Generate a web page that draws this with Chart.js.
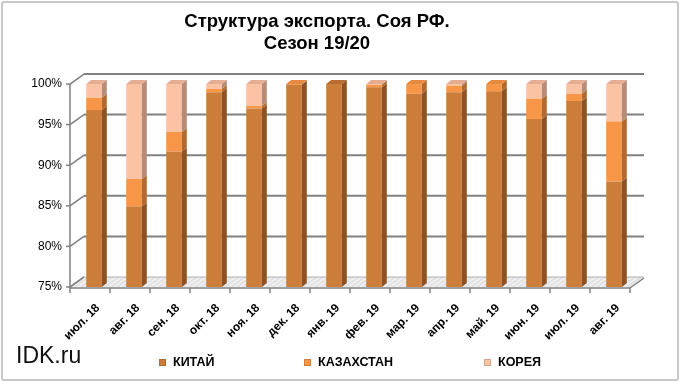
<!DOCTYPE html>
<html lang="ru">
<head>
  <meta charset="UTF-8" />
  <title>Структура экспорта. Соя РФ</title>
  <script src="https://cdn.jsdelivr.net/npm/chart.js"></script>
  <style>
    body {
      margin: 0;
      background: #fff;
      font-family: "Liberation Sans", Arial, sans-serif;
    }
    .frame {
      position: relative;
      width: 680px;
      height: 384px;
    }
    .frame::after {
      content: "";
      position: absolute;
      left: 1px; top: 1px;
      width: 674px; height: 376px;
      border: 2px solid #c8c8c8;
      border-radius: 3px;
      pointer-events: none;
    }
    canvas { position: absolute; left: 0; top: 0; }
    .brand {
      position: absolute;
      left: 16px;
      top: 342px;
      font-size: 23px;
      color: #111;
    }
    .legend span.item {
      position: absolute;
      top: 355px;
      font-size: 12.5px;
      font-weight: bold;
      color: #000;
    }
    .legend i {
      display: inline-block;
      width: 7px; height: 7px;
      margin-right: 7px;
      vertical-align: 0px;
      box-shadow: inset 0 0 0 1px rgba(0,0,0,0.15);
    }
  </style>
</head>
<body>
<div class="frame">
  <canvas id="chart" width="680" height="384"></canvas>
  <div class="brand">IDK.ru</div>
  <div class="legend" id="legend"></div>
</div>

<script>
  const months = ["июл. 18", "авг. 18", "сен. 18", "окт. 18", "ноя. 18", "дек. 18", "янв. 19",
                  "фев. 19", "мар. 19", "апр. 19", "май. 19", "июн. 19", "июл. 19", "авг. 19"];
  const china      = [96.8, 84.9, 91.7, 99.0, 97.0, 99.9, 100, 99.6, 98.8, 99.0, 99.1, 95.7, 97.9, 88.0];
  const kazakhstan = [1.5, 3.4, 2.4, 0.4, 0.3, 0.1, 0, 0.3, 1.2, 0.8, 0.9, 2.5, 0.9, 7.4];
  const korea      = [1.7, 11.7, 5.9, 0.6, 2.7, 0, 0, 0.1, 0, 0.2, 0, 1.8, 1.2, 4.6];
  const yTicks = [75, 80, 85, 90, 95, 100];

  const colors = {
    china: "#cd7d3a", chinaSide: "#8e5223", chinaTop: "#b96d33",
    kaz: "#f79646", kazSide: "#b46a2e", kazTop: "#e58a40",
    korea: "#fbc3a3", koreaSide: "#b58c77", koreaTop: "#e7ad92"
  };

  // 3D look: back wall grid, floor, side and top faces of bars
  const DX = 14, DY = 10;      // wall depth
  const BX = 5, BY = 4;        // bar depth
  const AXIS_SHIFT = 4;        // front axis sits a little left of the bars
  const GRID = "#808080";

  // line drawn as a thin filled quad
  function seg(c, x1, y1, x2, y2, w) {
    const len = Math.hypot(x2 - x1, y2 - y1) || 1;
    const nx = -(y2 - y1) / len * w / 2, ny = (x2 - x1) / len * w / 2;
    c.beginPath();
    c.moveTo(x1 + nx, y1 + ny); c.lineTo(x2 + nx, y2 + ny);
    c.lineTo(x2 - nx, y2 - ny); c.lineTo(x1 - nx, y1 - ny);
    c.closePath();
    c.fill();
  }

  const threeD = {
    id: "threeD",
    beforeDraw(chart) {
      const c = chart.ctx, a = chart.chartArea, ys = chart.scales.y;
      const L = a.left - AXIS_SHIFT, R = a.right - AXIS_SHIFT, B = a.bottom;
      c.save();
      // floor
      c.beginPath();
      c.moveTo(L, B); c.lineTo(R, B); c.lineTo(R + DX, B - DY); c.lineTo(L + DX, B - DY);
      c.closePath();
      c.fillStyle = "#e3e3e3";
      c.fill();
      c.fillStyle = "#f5f5f5";
      for (let x = L + 2; x < R - 2; x += 6) seg(c, x, B, x + DX, B - DY, 1);

      c.fillStyle = GRID;
      // back wall gridlines and the diagonals at the left
      yTicks.forEach(v => {
        const py = ys.getPixelForValue(v);
        seg(c, L - 4, py, L, py, 1.5);
        seg(c, L, py, L + DX, py - DY, 1.6);
        if (v > yTicks[0]) seg(c, L + DX, py - DY, R + DX, py - DY, 2);
      });
      c.fillStyle = "#b0b0b0";
      seg(c, L + DX, B - DY, R + DX, B - DY, 1);
      c.fillStyle = GRID;
      // front axes
      seg(c, L, a.top, L, B + 1, 1.5);
      seg(c, L, B + 1, R, B + 1, 1.5);
      seg(c, R, B + 1, R + DX, B - DY + 1, 1.5);
      const n = months.length, step = (R - L) / n;
      for (let i = 0; i <= n; i++) {
        const x = L + i * step;
        seg(c, x, B + 1, x, B + 6, 1.5);
      }
      c.restore();
    },
    afterDatasetsDraw(chart) {
      const c = chart.ctx, a = chart.chartArea;
      const sides = [colors.chinaSide, colors.kazSide, colors.koreaSide];
      const tops = [colors.chinaTop, colors.kazTop, colors.koreaTop];
      c.save();
      const n = chart.data.labels.length;
      for (let i = 0; i < n; i++) {
        let topMost = null;
        chart.data.datasets.forEach((ds, d) => {
          const el = chart.getDatasetMeta(d).data[i];
          if (!el || ds.data[i] <= 0) return;
          const p = el.getProps(["x", "y", "base", "width"], true);
          const right = p.x + p.width / 2;
          const top = Math.max(p.y, a.top - 10);
          const bot = Math.min(p.base, a.bottom);
          if (bot <= top) return;
          c.fillStyle = sides[d];
          c.beginPath();
          c.moveTo(right, top); c.lineTo(right + BX, top - BY);
          c.lineTo(right + BX, bot - BY); c.lineTo(right, bot);
          c.closePath(); c.fill();
          if (!topMost || p.y < topMost.y) topMost = { x: p.x, y: p.y, w: p.width, d };
        });
        if (topMost) {
          const l = topMost.x - topMost.w / 2, r = topMost.x + topMost.w / 2;
          c.fillStyle = tops[topMost.d];
          c.beginPath();
          c.moveTo(l, topMost.y); c.lineTo(r, topMost.y);
          c.lineTo(r + BX, topMost.y - BY); c.lineTo(l + BX, topMost.y - BY);
          c.closePath(); c.fill();
        }
      }
      c.restore();
    }
  };

  const chart = new Chart(document.getElementById("chart"), {
    type: "bar",
    data: {
      labels: months,
      datasets: [
        { label: "КИТАЙ", data: china, backgroundColor: colors.china },
        { label: "КАЗАХСТАН", data: kazakhstan, backgroundColor: colors.kaz },
        { label: "КОРЕЯ", data: korea, backgroundColor: colors.korea }
      ]
    },
    options: {
      responsive: false,
      animation: false,
      layout: { padding: { left: 0, right: 46, top: 0, bottom: 40 } },
      datasets: {
        bar: { categoryPercentage: 1, barPercentage: 0.39 }
      },
      plugins: {
        legend: { display: false },
        tooltip: { enabled: false },
        title: {
          display: true,
          text: ["Структура экспорта. Соя РФ.", "Сезон 19/20"],
          color: "#000",
          font: { family: "'Liberation Sans', Arial", size: 18.5, weight: "bold", lineHeight: 1.19 },
          padding: { top: 11, bottom: 29 }
        }
      },
      scales: {
        x: {
          stacked: true,
          grid: { display: false },
          border: { display: false },
          ticks: {
            color: "#000",
            minRotation: 45, maxRotation: 45,
            padding: 6,
            labelOffset: 4,
            font: { family: "'Liberation Sans', Arial", size: 12, weight: "bold" }
          },
          afterFit(scale) { scale.height = 57; }
        },
        y: {
          stacked: true,
          min: 75, max: 100,
          grid: { display: false, drawTicks: false },
          border: { display: false },
          ticks: {
            stepSize: 5,
            padding: 12,
            color: "#000",
            font: { family: "'Liberation Sans', Arial", size: 12 },
            callback: v => v + "%"
          },
          afterFit(scale) { scale.width = 74; }
        }
      }
    },
    plugins: [threeD]
  });

  // legend placed with the picture's own spacing
  const legendPos = [159, 304, 484];
  const legendColors = [colors.china, colors.kaz, colors.korea];
  const legend = document.getElementById("legend");
  chart.data.datasets.forEach((ds, i) => {
    const item = document.createElement("span");
    item.className = "item";
    item.style.left = legendPos[i] + "px";
    item.innerHTML = `<i style="background:${legendColors[i]}"></i>${ds.label}`;
    legend.appendChild(item);
  });
</script>
</body>
</html>
